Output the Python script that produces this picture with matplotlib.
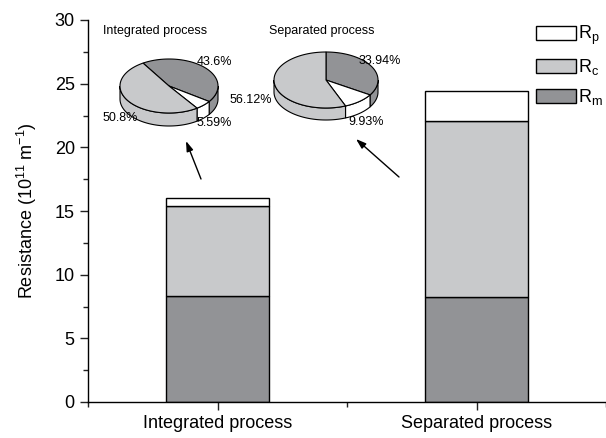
import matplotlib.pyplot as plt
import numpy as np
from matplotlib.patches import Polygon

plt.rcParams["font.family"] = ["Liberation Sans", "DejaVu Sans"]
plt.rcParams["mathtext.fontset"] = "custom"
plt.rcParams["mathtext.rm"] = "Liberation Sans"
plt.rcParams["mathtext.it"] = "Liberation Sans"

# resistance components (10^11 m^-1)
processes = ["Integrated process", "Separated process"]
r_m = [8.35, 8.27]
r_c = [7.05, 13.78]
r_p = [0.60, 2.40]

# pie shares (%), order: R_m, R_p, R_c
pie_integrated = [43.6, 5.59, 50.8]
pie_separated = [33.94, 9.93, 56.12]
pie_labels_integrated = ["43.6%", "5.59%", "50.8%"]
pie_labels_separated = ["33.94%", "9.93%", "56.12%"]

DARK = "#929396"
LIGHT = "#c8c9cb"
WHITE = "#ffffff"


def draw_pie3d(ax, cx, cy, rx, ry, depth, values, colors, startangle):
    # pie in pixel coordinates (y grows downward), slices run clockwise
    values = np.asarray(values, dtype=float)
    spans = 360.0 * values / values.sum()
    edges = startangle - np.concatenate([[0], np.cumsum(spans)])

    def arc(t0, t1, n=80):
        t = np.radians(np.linspace(t0, t1, n))
        return cx + rx * np.cos(t), cy - ry * np.sin(t)

    # side walls: only the front half of the rim (screen-lower half)
    for hi, lo, col in zip(edges[:-1], edges[1:], colors):
        for k in range(-2, 3):
            f_lo, f_hi = -180 + 360 * k, 360 * k
            a, b = max(lo, f_lo), min(hi, f_hi)
            if b - a <= 0:
                continue
            x, y = arc(a, b)
            pts = np.column_stack([np.r_[x, x[::-1]], np.r_[y, y[::-1] + depth]])
            ax.add_patch(Polygon(pts, closed=True, facecolor=col,
                                 edgecolor="black", linewidth=0.8, zorder=2))

    # top face
    for hi, lo, col in zip(edges[:-1], edges[1:], colors):
        x, y = arc(lo, hi)
        pts = np.column_stack([np.r_[cx, x], np.r_[cy, y]])
        ax.add_patch(Polygon(pts, closed=True, facecolor=col,
                             edgecolor="black", linewidth=0.8, zorder=3))


fig = plt.figure(figsize=(6.06, 4.38), dpi=100)
ax = fig.add_axes([88 / 606, 1 - 402 / 438, 518 / 606, 382 / 438])

x = np.arange(1, len(processes) + 1)
width = 0.4
bottom_c = np.array(r_m)
bottom_p = bottom_c + np.array(r_c)
ax.bar(x, r_m, width, color=DARK, edgecolor="black", linewidth=1, label=r"R$_{\rm m}$")
ax.bar(x, r_c, width, bottom=bottom_c, color=LIGHT, edgecolor="black", linewidth=1,
       label=r"R$_{\rm c}$")
ax.bar(x, r_p, width, bottom=bottom_p, color=WHITE, edgecolor="black", linewidth=1,
       label=r"R$_{\rm p}$")

ax.set_xlim(0.5, 0.5 + 518 / 261)
ax.set_ylim(0, 30)
ax.set_xticks(x)
ax.set_xticklabels(processes, fontsize=13)
ax.set_xticks([0.5, 1.5, 2.5], minor=True)
ax.set_yticks(np.arange(0, 31, 5))
ax.set_yticks(np.arange(0, 30, 2.5), minor=True)
ax.tick_params(axis="both", which="major", direction="out", length=6, width=1,
               labelsize=13, color="#222222")
ax.tick_params(axis="both", which="minor", direction="out", length=3.5, width=1,
               color="#222222")
ax.tick_params(axis="x", pad=3)
for side in ["top", "right"]:
    ax.spines[side].set_visible(False)
for side in ["left", "bottom"]:
    ax.spines[side].set_linewidth(1)
ax.set_ylabel(r"Resistance (10$^{11}$ m$^{-1}$)", fontsize=13, labelpad=11)

handles, labels = ax.get_legend_handles_labels()
ax.legend(handles[::-1], labels[::-1], loc="upper left",
          bbox_to_anchor=(536 / 606, 1 - 24 / 438), bbox_transform=fig.transFigure,
          frameon=False, fontsize=13, handlelength=2.2, handleheight=0.85,
          handletextpad=0.15, labelspacing=0.55, borderpad=0, borderaxespad=0)

# overlay in pixel coordinates for the pies and arrows
ov = fig.add_axes([0, 0, 1, 1])
ov.set_xlim(0, 606)
ov.set_ylim(438, 0)
ov.axis("off")
ov.patch.set_alpha(0)

draw_pie3d(ov, 169, 86, 49, 27, 13, pie_integrated, [DARK, WHITE, LIGHT], 122)
draw_pie3d(ov, 326, 80, 52, 28, 12, pie_separated, [DARK, WHITE, LIGHT], 90)

ov.text(103, 31, "Integrated process", fontsize=9, va="center", ha="left")
ov.text(269, 31, "Separated process", fontsize=9, va="center", ha="left")
ov.text(197, 62, pie_labels_integrated[0], fontsize=9, va="center", ha="left")
ov.text(197, 123, pie_labels_integrated[1], fontsize=9, va="center", ha="left")
ov.text(103, 118, pie_labels_integrated[2], fontsize=9, va="center", ha="left")
ov.text(359, 61, pie_labels_separated[0], fontsize=9, va="center", ha="left")
ov.text(348, 122, pie_labels_separated[1], fontsize=9, va="center", ha="left")
ov.text(230, 100, pie_labels_separated[2], fontsize=9, va="center", ha="left")

arrow = dict(arrowstyle="-|>,head_length=0.6,head_width=0.2", color="black",
             linewidth=1, shrinkA=0, shrinkB=0)
ov.annotate("", xy=(186, 141), xytext=(201, 179), arrowprops=arrow)
ov.annotate("", xy=(356, 139), xytext=(399, 177), arrowprops=arrow)

fig.savefig("out.png", dpi=100)
